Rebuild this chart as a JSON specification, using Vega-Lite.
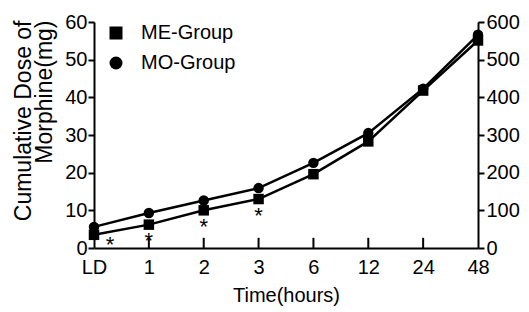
{
  "$schema": "https://vega.github.io/schema/vega-lite/v6.json",
  "width": 384,
  "height": 226,
  "autosize": {"type": "none"},
  "padding": {"left": 94, "top": 22, "right": 51, "bottom": 64},
  "config": {
    "font": "Liberation Sans",
    "view": {"stroke": null},
    "axis": {
      "grid": false,
      "domainColor": "black",
      "tickColor": "black",
      "labelColor": "black",
      "titleColor": "black",
      "labelFontSize": 20,
      "titleFontSize": 20,
      "titleFontWeight": "normal",
      "domainWidth": 2,
      "tickWidth": 2,
      "labelOverlap": false
    }
  },
  "datasets": {
    "dose": [
      {"time": "LD", "group": "ME-Group", "mg": 3.5},
      {"time": "1", "group": "ME-Group", "mg": 6.2},
      {"time": "2", "group": "ME-Group", "mg": 10.0},
      {"time": "3", "group": "ME-Group", "mg": 13.0},
      {"time": "6", "group": "ME-Group", "mg": 19.6},
      {"time": "12", "group": "ME-Group", "mg": 28.3},
      {"time": "24", "group": "ME-Group", "mg": 41.8},
      {"time": "48", "group": "ME-Group", "mg": 55.1},
      {"time": "LD", "group": "MO-Group", "mg": 5.6},
      {"time": "1", "group": "MO-Group", "mg": 9.3},
      {"time": "2", "group": "MO-Group", "mg": 12.6},
      {"time": "3", "group": "MO-Group", "mg": 15.9},
      {"time": "6", "group": "MO-Group", "mg": 22.6},
      {"time": "12", "group": "MO-Group", "mg": 30.5},
      {"time": "24", "group": "MO-Group", "mg": 42.3},
      {"time": "48", "group": "MO-Group", "mg": 56.6}
    ],
    "sig": [
      {"time": "LD", "mg": 2.0, "mark": "*"},
      {"time": "1", "mg": 3.3, "mark": "*"},
      {"time": "2", "mg": 6.8, "mark": "*"},
      {"time": "3", "mg": 9.9, "mark": "*"}
    ],
    "ticks": [
      {"time": "1", "lo": 0, "hi": 2.7}, {"time": "2", "lo": 0, "hi": 2.7}, {"time": "3", "lo": 0, "hi": 2.7},
      {"time": "6", "lo": 0, "hi": 2.7}, {"time": "12", "lo": 0, "hi": 2.7}, {"time": "24", "lo": 0, "hi": 2.7}
    ]
  },
  "layer": [
    {
      "encoding": {
        "x": {
          "field": "time", "type": "ordinal", "sort": null,
          "scale": {"type": "point", "padding": 0, "domain": ["LD", "1", "2", "3", "6", "12", "24", "48"]},
          "axis": {"title": "Time(hours)", "labelAngle": 0, "ticks": false, "labelPadding": 9, "titlePadding": 8}
        },
        "y": {
          "field": "mg", "type": "quantitative",
          "scale": {"domain": [0, 60]},
          "axis": {
            "title": ["Cumulative Dose of", "Morphine(mg)"],
            "values": [0, 10, 20, 30, 40, 50, 60],
            "tickCount": 7,
            "tickSize": 6, "labelPadding": 1,
            "titleAngle": -90, "titleAlign": "right", "titleBaseline": "alphabetic",
            "titleX": -64, "titleY": -2, "titleLineHeight": 21, "titleFontSize": 23
          }
        }
      },
      "layer": [
        {
          "data": {"name": "ticks"},
          "mark": {"type": "rule", "color": "black", "strokeWidth": 2},
          "encoding": {
            "y": {"field": "lo", "type": "quantitative"},
            "y2": {"field": "hi"}
          }
        },
        {
          "data": {"name": "dose"},
          "mark": {"type": "line", "color": "black", "strokeWidth": 2.5},
          "encoding": {
            "detail": {"field": "group"}
          }
        },
        {
          "data": {"name": "dose"},
          "mark": {"type": "point", "filled": true, "color": "black", "size": 110, "opacity": 1},
          "encoding": {
            "shape": {
              "field": "group", "type": "nominal",
              "scale": {"domain": ["ME-Group", "MO-Group"], "range": ["square", "circle"]},
              "legend": {
                "title": null, "orient": "none", "legendX": 12, "legendY": 1,
                "symbolSize": 169, "symbolFillColor": "black", "symbolStrokeColor": "black",
                "labelFontSize": 20, "labelColor": "black", "labelOffset": 15, "rowPadding": 10, "padding": 0
              }
            }
          }
        },
        {
          "data": {"name": "sig"},
          "transform": [{"filter": "datum.time != 'LD'"}],
          "mark": {"type": "text", "fontSize": 22, "baseline": "alphabetic", "dy": 12, "color": "black"},
          "encoding": {
            "text": {"field": "mark"}
          }
        },
        {
          "data": {"name": "sig"},
          "transform": [{"filter": "datum.time == 'LD'"}],
          "mark": {"type": "text", "fontSize": 22, "baseline": "alphabetic", "dy": 12, "dx": 16, "color": "black"},
          "encoding": {
            "text": {"field": "mark"}
          }
        }
      ]
    },
    {
      "data": {"name": "dose"},
      "mark": {"type": "point", "opacity": 0},
      "encoding": {
        "x": {"field": "time", "type": "ordinal", "sort": null},
        "y": {
          "field": "mg", "type": "quantitative",
          "scale": {"domain": [0, 600]},
          "axis": {"orient": "right", "title": null, "values": [0, 100, 200, 300, 400, 500, 600], "tickSize": 6, "labelPadding": 2}
        }
      }
    }
  ],
  "resolve": {"scale": {"y": "independent"}}
}
